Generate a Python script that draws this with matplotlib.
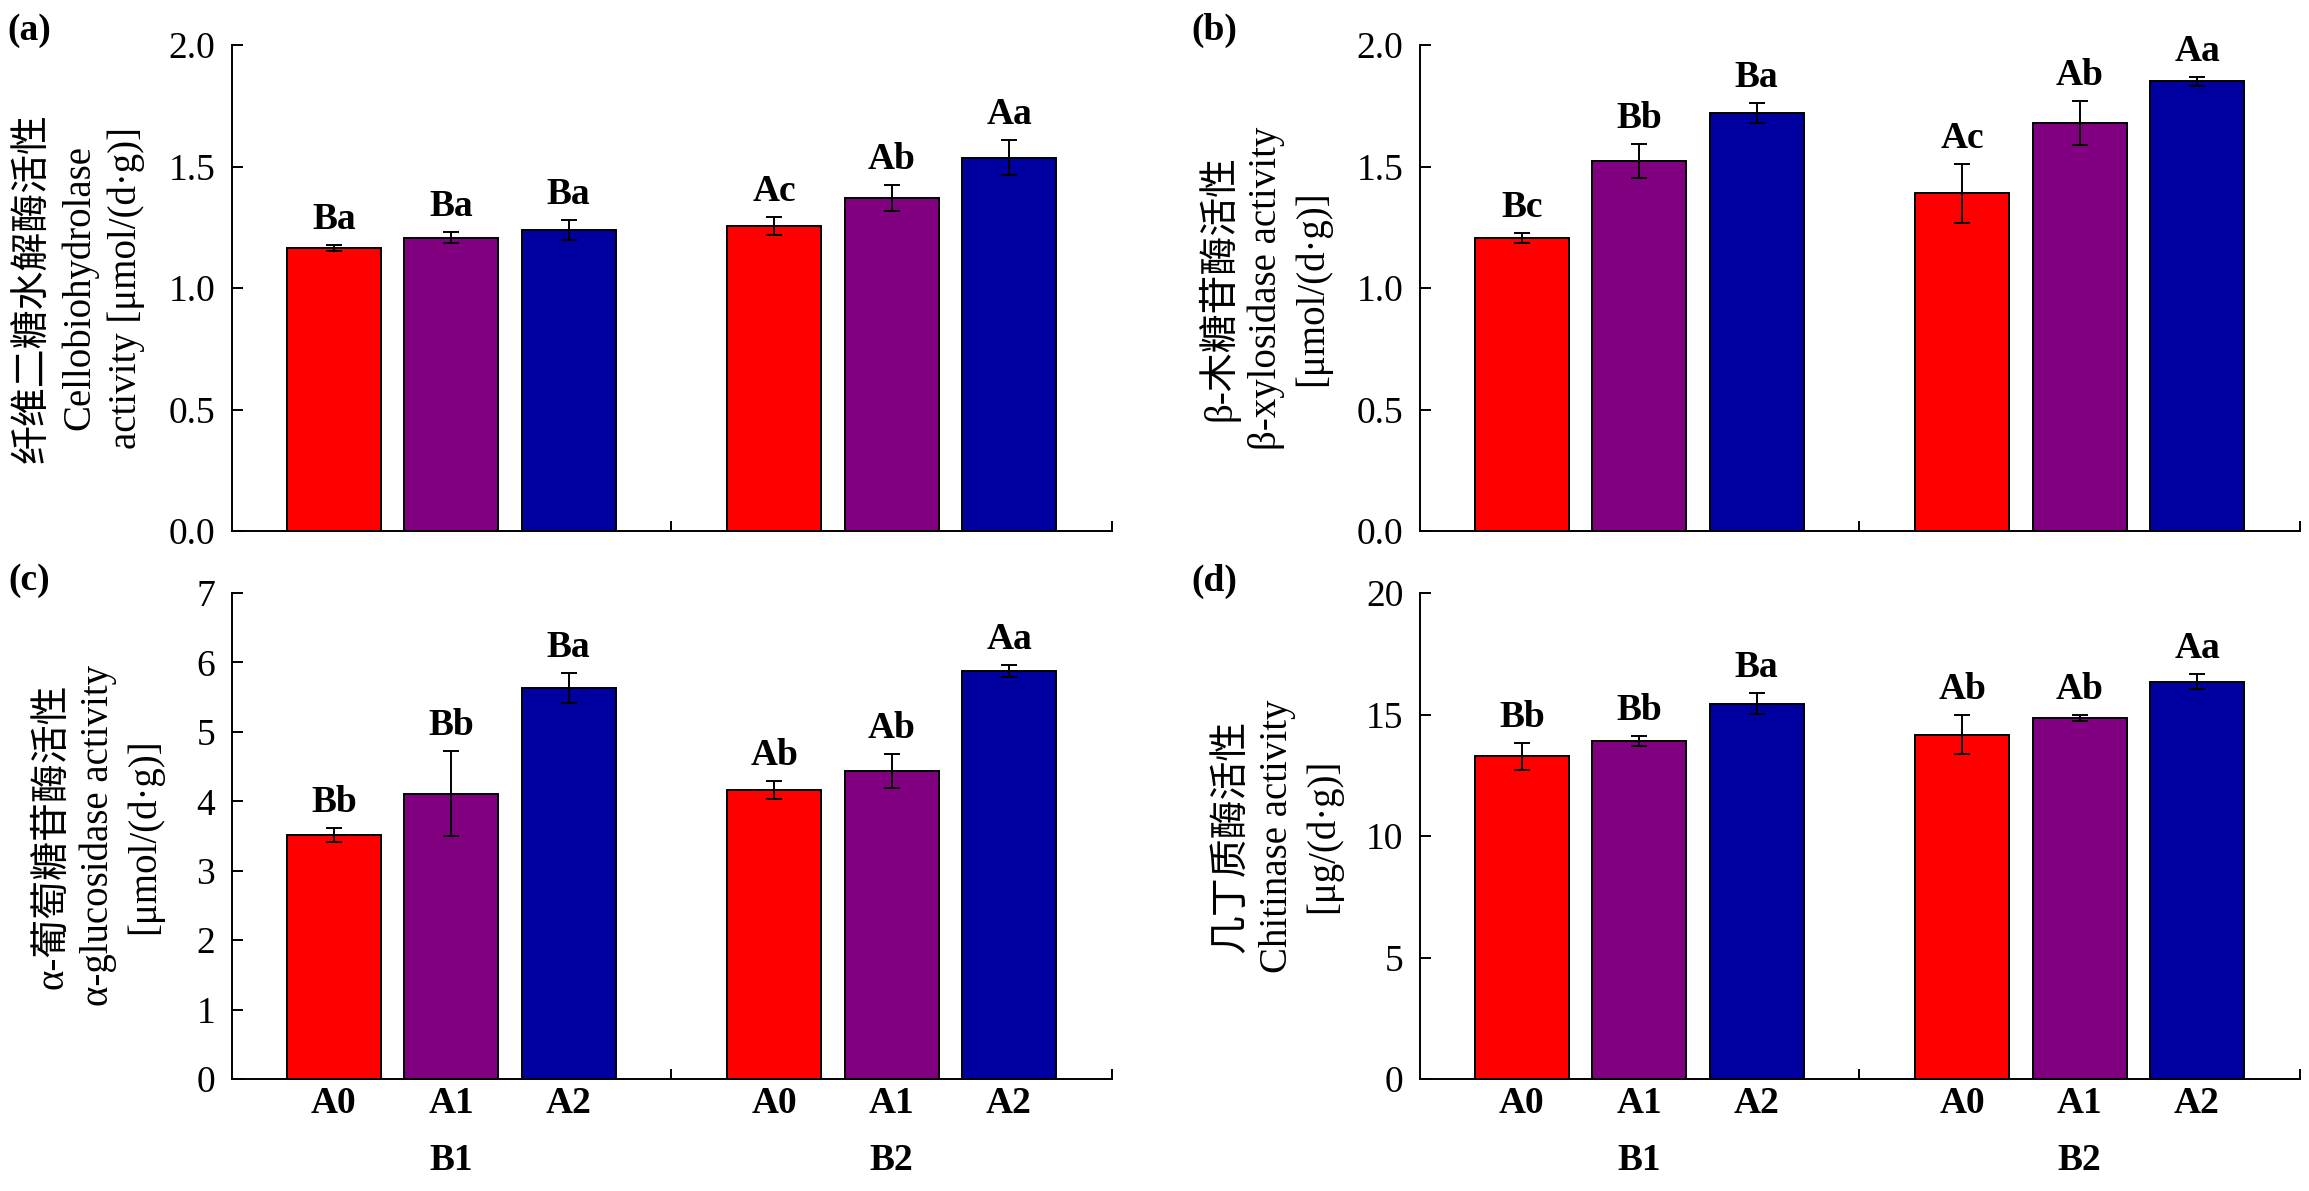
import numpy as np
import matplotlib
matplotlib.use('Agg')
import matplotlib.pyplot as plt

plt.rcParams['font.family'] = ['Liberation Serif', 'Noto Sans CJK SC', 'DejaVu Sans']
plt.rcParams['axes.unicode_minus'] = False

# data
groups = ['B1', 'B2']
treatments = ['A0', 'A1', 'A2']
bar_colors = ['#FF0000', '#800080', '#0000A0']

cbh_mean = [1.166, 1.207, 1.239, 1.255, 1.371, 1.536]
cbh_err = [0.012, 0.022, 0.041, 0.036, 0.053, 0.072]
cbh_sig = ['Ba', 'Ba', 'Ba', 'Ac', 'Ab', 'Aa']

bxyl_mean = [1.207, 1.523, 1.719, 1.389, 1.678, 1.850]
bxyl_err = [0.020, 0.070, 0.042, 0.122, 0.090, 0.020]
bxyl_sig = ['Bc', 'Bb', 'Ba', 'Ac', 'Ab', 'Aa']

agluc_mean = [3.51, 4.11, 5.63, 4.16, 4.43, 5.88]
agluc_err = [0.10, 0.615, 0.22, 0.13, 0.245, 0.088]
agluc_sig = ['Bb', 'Bb', 'Ba', 'Ab', 'Ab', 'Aa']

chit_mean = [13.28, 13.91, 15.45, 14.16, 14.86, 16.35]
chit_err = [0.56, 0.19, 0.43, 0.80, 0.12, 0.31]
chit_sig = ['Bb', 'Bb', 'Ba', 'Ab', 'Ab', 'Aa']

panels = [
    dict(tag='(a)', mean=cbh_mean, err=cbh_err, sig=cbh_sig, ymax=2.0, ystep=0.5, fmt='%.1f',
         ylabel='纤维二糖水解酶活性\nCellobiohydrolase\nactivity [μmol/(d·g)]', labx=-0.099),
    dict(tag='(b)', mean=bxyl_mean, err=bxyl_err, sig=bxyl_sig, ymax=2.0, ystep=0.5, fmt='%.1f',
         ylabel='β-木糖苷酶活性\nβ-xylosidase activity\n[μmol/(d·g)]', labx=-0.101),
    dict(tag='(c)', mean=agluc_mean, err=agluc_err, sig=agluc_sig, ymax=7, ystep=1, fmt='%d',
         ylabel='α-葡萄糖苷酶活性\nα-glucosidase activity\n[μmol/(d·g)]', labx=-0.078),
    dict(tag='(d)', mean=chit_mean, err=chit_err, sig=chit_sig, ymax=20, ystep=5, fmt='%d',
         ylabel='几丁质酶活性\nChitinase activity\n[μg/(d·g)]', labx=-0.089),
]

W, H = 2309, 1191
fig = plt.figure(figsize=(W / 100, H / 100), dpi=100)

ax_left = [232, 1420]
ax_top = [45, 593]
ax_w, ax_h = 880, 486

x = np.array([0, 1, 2, 3.75, 4.75, 5.75])
sep = 2.875
xmin, xmax = -0.868, 6.627

for i, p in enumerate(panels):
    col, row = i % 2, i // 2
    l = ax_left[col] / W
    b = 1 - (ax_top[row] + ax_h) / H
    ax = fig.add_axes([l, b, ax_w / W, ax_h / H])

    ax.bar(x, p['mean'], width=0.8, color=bar_colors * 2, edgecolor='black', linewidth=1.4, zorder=2)
    ax.errorbar(x, p['mean'], yerr=p['err'], fmt='none', ecolor='black', elinewidth=1.4,
                capsize=5.5, capthick=1.4, zorder=3)
    for xi, m, e, s in zip(x, p['mean'], p['err'], p['sig']):
        ax.annotate(s, (xi, m + e), xytext=(0, 11.5), textcoords='offset points',
                    ha='center', va='baseline', fontsize=27, fontweight='bold')

    ax.set_xlim(xmin, xmax)
    ax.set_ylim(0, p['ymax'])
    ax.set_yticks(np.arange(0, p['ymax'] + p['ystep'] / 2, p['ystep']))
    ax.yaxis.set_major_formatter(matplotlib.ticker.FormatStrFormatter(p['fmt']))
    ax.tick_params(axis='y', direction='in', length=8, width=1.4, labelsize=27, pad=12)

    ax.set_xticks(x)
    ax.set_xticks([sep, xmax], minor=True)
    ax.tick_params(axis='x', which='major', length=0, pad=5)
    ax.tick_params(axis='x', which='minor', direction='in', length=7, width=1.4)
    if row == 1:
        ax.set_xticklabels(treatments * 2, fontsize=27, fontweight='bold')
        for gi, g in enumerate(groups):
            ax.annotate(g, (x[3 * gi + 1], 0), xycoords=('data', 'axes fraction'),
                        xytext=(0, -59), textcoords='offset points',
                        ha='center', va='center', fontsize=27, fontweight='bold')
    else:
        ax.set_xticklabels([])

    for sp in ['top', 'right']:
        ax.spines[sp].set_visible(False)
    for sp in ['left', 'bottom']:
        ax.spines[sp].set_linewidth(1.4)

    ax.set_ylabel(p['ylabel'], fontsize=28, linespacing=1.3)
    ax.yaxis.set_label_coords(p['labx'], 0.5)

    tag_x = [29, 1214][col] / W
    tag_y = 1 - [30, 581][row] / H
    fig.text(tag_x, tag_y, p['tag'], ha='center', va='center', fontsize=27, fontweight='bold')

fig.savefig('out.png', dpi=100)
